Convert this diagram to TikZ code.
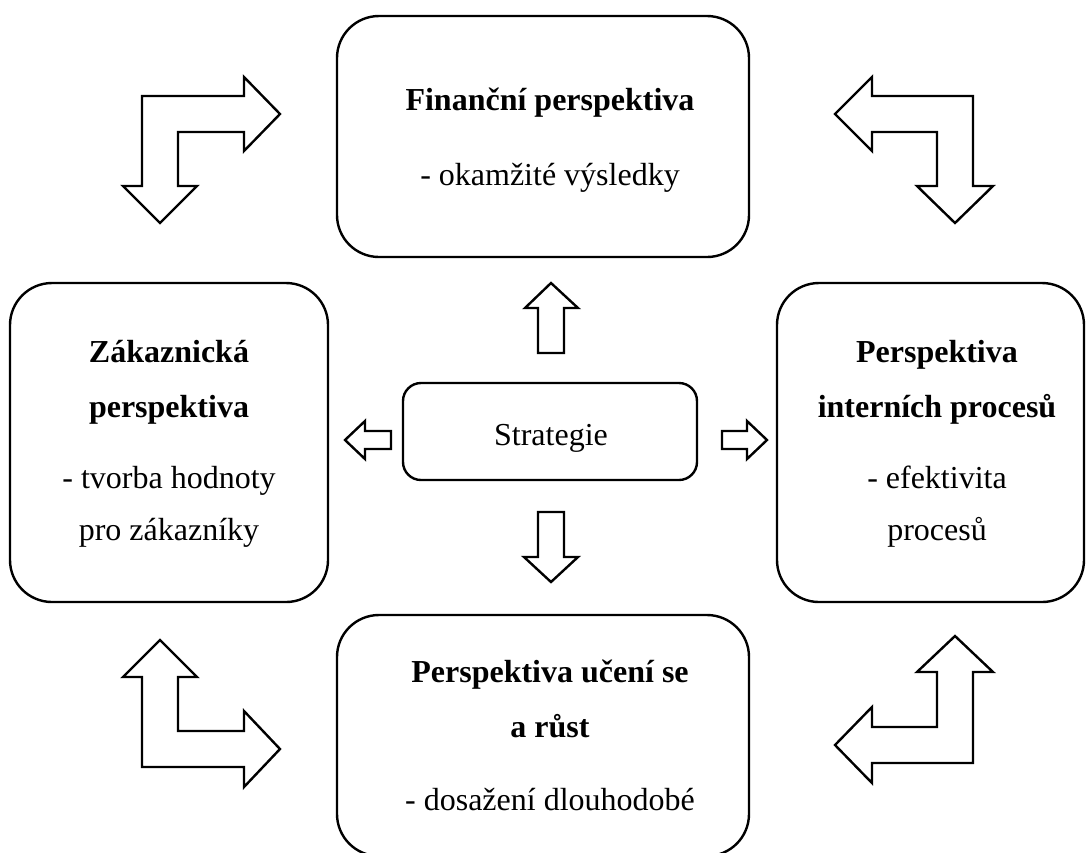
\documentclass[tikz,border=0pt]{standalone}
\usepackage{fontspec}
\setmainfont{Liberation Serif}
\begin{document}
\begin{tikzpicture}[x=0.375pt,y=-0.375pt,line width=0.9pt,
  bigbox/.style={draw,rounded corners=15.75pt,inner sep=0pt,outer sep=0pt},
  midbox/.style={draw,rounded corners=6.75pt,inner sep=0pt,outer sep=0pt},
  txt/.style={anchor=base,inner sep=0pt,font=\fontsize{12pt}{14pt}\selectfont},
  btxt/.style={txt,font=\fontsize{12pt}{14pt}\selectfont\bfseries},
  blockarrow/.style={draw,fill=white,line join=miter}]
\fill[white] (0,0) rectangle (1086,852);
\useasboundingbox (0,0) rectangle (1086,852);

% perspective boxes
\node[bigbox,minimum width=154.5pt,minimum height=90.375pt] (fin) at (543,136.5) {};
\node[bigbox,minimum width=119.25pt,minimum height=119.625pt] (zak) at (169,442.5) {};
\node[bigbox,minimum width=115.125pt,minimum height=119.625pt] (int) at (930.5,442.5) {};
\node[bigbox,minimum width=154.5pt,minimum height=90.375pt] (uce) at (543,735.5) {};
\node[midbox,minimum width=110.25pt,minimum height=36.375pt] (str) at (550,431.5) {};

% box texts
\node[btxt] (fin1) at (550,110) {Finanční perspektiva};
\node[txt]  (fin2) at (550,185) {- okamžité výsledky};

\node[btxt] (zak1) at (169,362) {Zákaznická};
\node[btxt] (zak2) at (169,417) {perspektiva};
\node[txt]  (zak3) at (169,488) {- tvorba hodnoty};
\node[txt]  (zak4) at (169,540) {pro zákazníky};

\node[btxt] (int1) at (937,362) {Perspektiva};
\node[btxt] (int2) at (937,417) {interních procesů};
\node[txt]  (int3) at (937,488) {- efektivita};
\node[txt]  (int4) at (937,540) {procesů};

\node[btxt] (uce1) at (550,682) {Perspektiva učení se};
\node[btxt] (uce2) at (550,737) {a růst};
\node[txt]  (uce3) at (550,810) {- dosažení dlouhodobé};

\node[txt] (str1) at (551,445) {Strategie};

% straight block arrows around the strategy box
\draw[blockarrow] (538,353) -- (538,308) -- (525,308) -- (551,283) -- (578,308) -- (564,308) -- (564,353) -- cycle;
\draw[blockarrow] (538,512) -- (538,557) -- (524,557) -- (551,582) -- (578,557) -- (564,557) -- (564,512) -- cycle;
\draw[blockarrow] (391,431) -- (365,431) -- (365,421) -- (345,440) -- (365,459) -- (365,449) -- (391,449) -- cycle;
\draw[blockarrow] (722,431) -- (747,431) -- (747,421) -- (767,440) -- (747,459) -- (747,449) -- (722,449) -- cycle;

% bent double arrows in the corners
\draw[blockarrow] (142,186) -- (142,96) -- (244,96) -- (244,77) -- (280,114) -- (244,151) -- (244,132) -- (178,132) -- (178,186) -- (197,186) -- (160,223) -- (123,186) -- cycle;
\draw[blockarrow] (973,186) -- (973,96) -- (872,96) -- (872,77) -- (835,114) -- (872,151) -- (872,132) -- (937,132) -- (937,186) -- (917,186) -- (955,223) -- (993,186) -- cycle;
\draw[blockarrow] (142,677) -- (142,767) -- (244,767) -- (244,787) -- (280,749) -- (244,711) -- (244,731) -- (178,731) -- (178,677) -- (197,677) -- (160,640) -- (123,677) -- cycle;
\draw[blockarrow] (973,672) -- (973,763) -- (872,763) -- (872,783) -- (835,745) -- (872,707) -- (872,727) -- (937,727) -- (937,672) -- (917,672) -- (955,636) -- (993,672) -- cycle;
\end{tikzpicture}
\end{document}
